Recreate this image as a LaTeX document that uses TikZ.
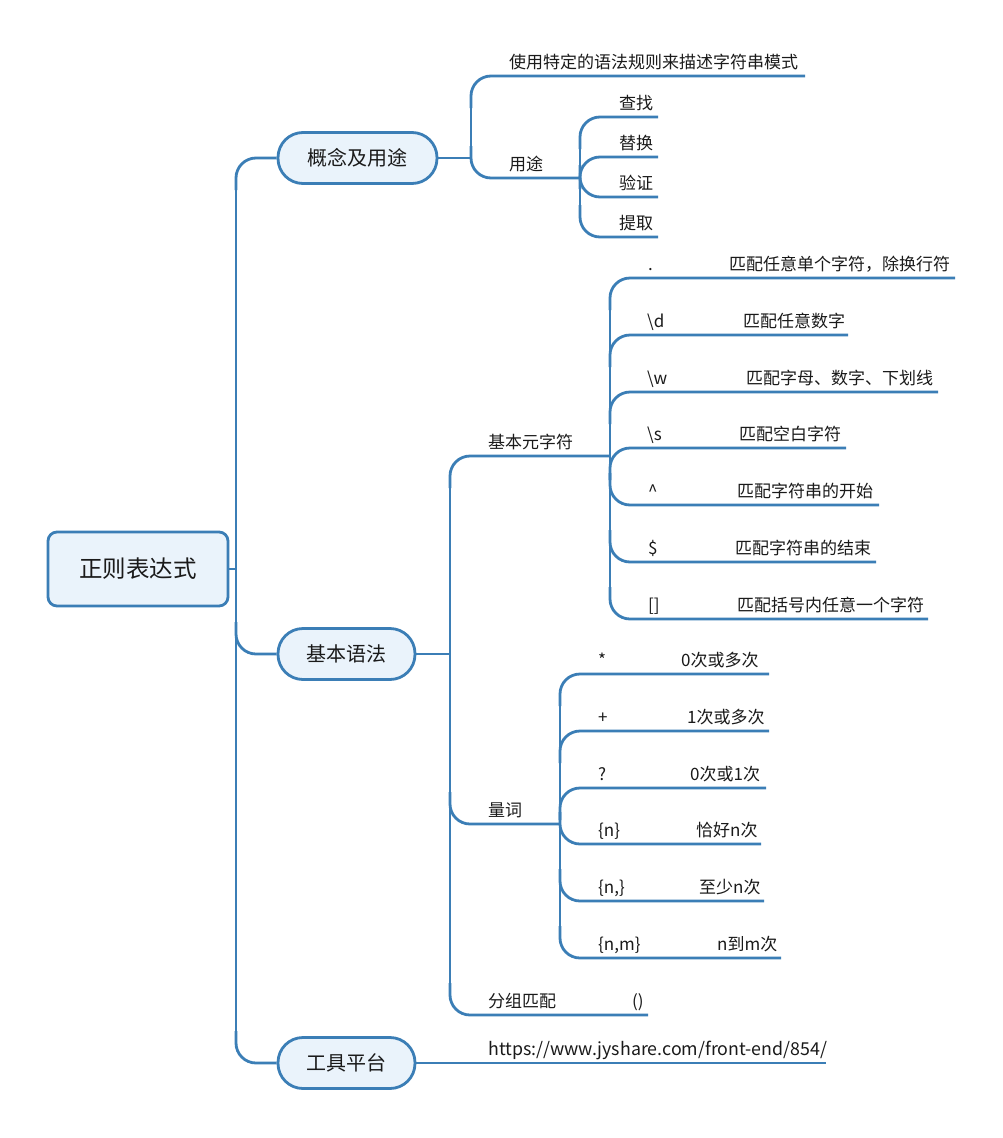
\documentclass[tikz,border=0pt]{standalone}
\usepackage{fontspec}
\setmainfont{Noto Sans CJK SC}
\usetikzlibrary{calc}
\definecolor{lc}{RGB}{59,126,182}
\definecolor{nf}{RGB}{234,243,251}
\definecolor{tc}{RGB}{26,26,26}
\newcommand\kidup[2]{\draw[conn] ($(#1|-#2)+(0,32)$) |- (#2);}
\newcommand\kiddn[2]{\draw[conn] ($(#1|-#2)+(0,-32)$) |- (#2);}
\begin{document}
\begin{tikzpicture}[x=1pt,y=-1pt,
  conn/.style={draw=lc,line width=2.8pt,rounded corners=20pt},
  lbl/.style={anchor=base west,inner sep=0pt,font=\fontsize{17}{19}\selectfont,text=tc},
  topic/.style={draw=lc,line width=2.8pt,fill=nf,rounded corners=25pt,minimum height=51pt,inner sep=0pt,font=\fontsize{20}{22}\selectfont,text=tc},
  rootbox/.style={draw=lc,line width=2.8pt,fill=nf,rounded corners=9pt,minimum width=180pt,minimum height=74pt,inner sep=0pt,font=\fontsize{23.5}{26}\selectfont,text=tc}
]
\useasboundingbox[fill=white] (0,0) rectangle (1002,1138);

% main nodes
\node[rootbox] (root) at (138,569) {正则表达式};
\node[topic,minimum width=159pt] (t1) at (357.5,158) {概念及用途};
\node[topic,minimum width=137pt] (t2) at (346.5,654) {基本语法};
\node[topic,minimum width=137pt] (t3) at (346.5,1063) {工具平台};

% top-level spine
\coordinate (J0) at (236,569);
\draw[conn] (root.east) -- (J0);
\draw[conn] ($(J0|-t1.west)+(0,22)$) -- ($(J0|-t3.west)+(0,-22)$);
\kidup{J0}{t1.west}
\kiddn{J0}{t2.west}
\kiddn{J0}{t3.west}

% branch 1
\coordinate (J1) at (471,158);
\coordinate (A1) at (805,76);
\coordinate (A2) at (580,178);
\draw[conn] (t1.east) -- (J1);
\draw[conn] ($(J1|-A1)+(0,22)$) -- ($(J1|-A2)+(0,-22)$);
\kidup{J1}{A1}
\kiddn{J1}{A2}
\node[lbl] (a1) at (509,68) {使用特定的语法规则来描述字符串模式};
\node[lbl] (a2) at (509,170) {用途};

\coordinate (U1) at (658,117);
\coordinate (U2) at (658,157);
\coordinate (U3) at (658,197);
\coordinate (U4) at (658,237);
\draw[conn] ($(A2|-U1)+(0,22)$) -- ($(A2|-U4)+(0,-22)$);
\kidup{A2}{U1}
\kidup{A2}{U2}
\kiddn{A2}{U3}
\kiddn{A2}{U4}
\node[lbl] (u1) at (619,109) {查找};
\node[lbl] (u2) at (619,149) {替换};
\node[lbl] (u3) at (619,189) {验证};
\node[lbl] (u4) at (619,229) {提取};

% branch 2
\coordinate (J3) at (450,654);
\coordinate (C1) at (610,456);
\coordinate (C2) at (560,824);
\coordinate (C3) at (648,1015);
\draw[conn] (t2.east) -- (J3);
\draw[conn] ($(J3|-C1)+(0,22)$) -- ($(J3|-C3)+(0,-22)$);
\kidup{J3}{C1}
\kiddn{J3}{C2}
\kiddn{J3}{C3}
\node[lbl] (c1) at (488,448) {基本元字符};
\node[lbl] (c2) at (488,816) {量词};
\node[lbl] (c3) at (488,1007) {分组匹配};
\node[lbl] (c3b) at (632,1007) {()};

% metacharacters
\coordinate (M1) at (955,278);
\coordinate (M2) at (848,335);
\coordinate (M3) at (938,392);
\coordinate (M4) at (846,448);
\coordinate (M5) at (879,505);
\coordinate (M6) at (876,562);
\coordinate (M7) at (928,619);
\draw[conn] ($(C1|-M1)+(0,22)$) -- ($(C1|-M7)+(0,-22)$);
\kidup{C1}{M1}
\kidup{C1}{M2}
\kidup{C1}{M3}
\kidup{C1}{M4}
\kiddn{C1}{M5}
\kiddn{C1}{M6}
\kiddn{C1}{M7}
\node[lbl] (m1) at (648,270) {.};
\node[lbl] (m1t) at (729,270) {匹配任意单个字符，除换行符};
\node[lbl] (m2) at (647,327) {\textbackslash d};
\node[lbl] (m2t) at (743,327) {匹配任意数字};
\node[lbl] (m3) at (647,384) {\textbackslash w};
\node[lbl] (m3t) at (746,384) {匹配字母、数字、下划线};
\node[lbl] (m4) at (647,440) {\textbackslash s};
\node[lbl] (m4t) at (739,440) {匹配空白字符};
\node[lbl] (m5) at (648,497) {\textasciicircum};
\node[lbl] (m5t) at (737,497) {匹配字符串的开始};
\node[lbl] (m6) at (648,554) {\$};
\node[lbl] (m6t) at (735,554) {匹配字符串的结束};
\node[lbl] (m7) at (648,611) {[]};
\node[lbl] (m7t) at (737,611) {匹配括号内任意一个字符};

% quantifiers
\coordinate (Q1) at (769,674);
\coordinate (Q2) at (769,731);
\coordinate (Q3) at (766,788);
\coordinate (Q4) at (761,844);
\coordinate (Q5) at (764,901);
\coordinate (Q6) at (781,958);
\draw[conn] ($(C2|-Q1)+(0,22)$) -- ($(C2|-Q6)+(0,-22)$);
\kidup{C2}{Q1}
\kidup{C2}{Q2}
\kidup{C2}{Q3}
\kiddn{C2}{Q4}
\kiddn{C2}{Q5}
\kiddn{C2}{Q6}
\node[lbl] (q1) at (598,666) {*};
\node[lbl] (q1t) at (681,666) {0次或多次};
\node[lbl] (q2) at (598,723) {+};
\node[lbl] (q2t) at (687,723) {1次或多次};
\node[lbl] (q3) at (598,780) {?};
\node[lbl] (q3t) at (690,780) {0次或1次};
\node[lbl] (q4) at (598,836) {\{n\}};
\node[lbl] (q4t) at (696,836) {恰好n次};
\node[lbl] (q5) at (598,893) {\{n,\}};
\node[lbl] (q5t) at (699,893) {至少n次};
\node[lbl] (q6) at (598,950) {\{n,m\}};
\node[lbl] (q6t) at (717,950) {n到m次};

% branch 3
\coordinate (T1) at (826,1063);
\draw[conn] (t3.east) -- (T1);
\node[lbl,font=\fontsize{17.8}{19}\selectfont] (t3u) at (488,1055) {https://www.jyshare.com/front-end/854/};
\end{tikzpicture}
\end{document}
